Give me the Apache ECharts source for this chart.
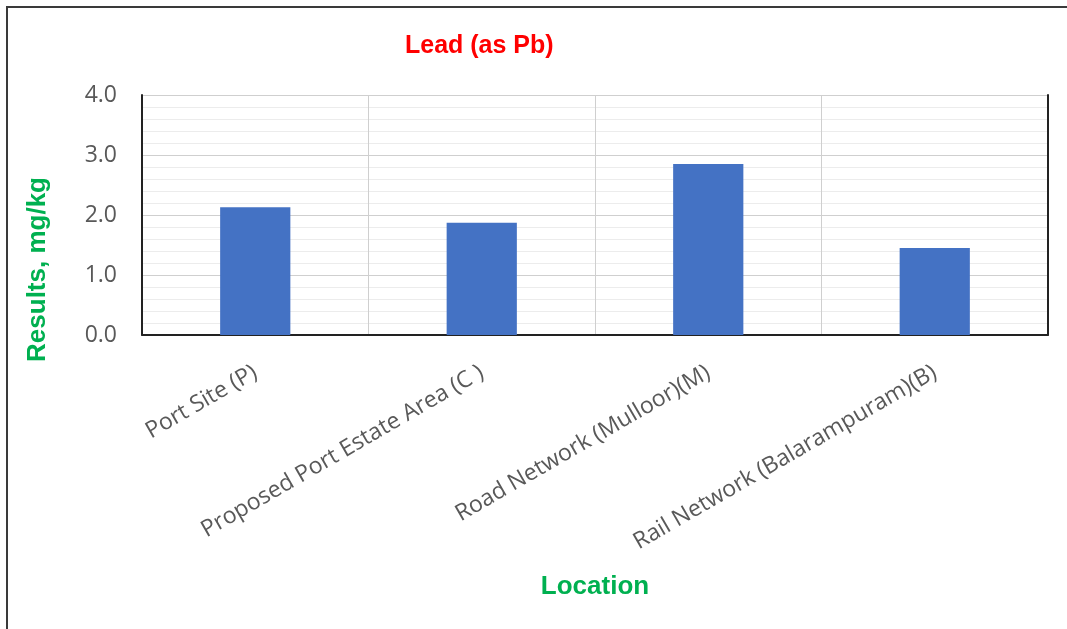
<!DOCTYPE html>
<html>
<head>
<meta charset="utf-8">
<script src="https://cdn.jsdelivr.net/npm/echarts@6/dist/echarts.min.js"></script>
<style>
html,body{margin:0;padding:0;background:#fff;}
#wrap{position:relative;width:1067px;height:629px;}
#chart{width:1067px;height:629px;}
#frame{position:absolute;left:6px;top:6px;right:0;bottom:0;border-top:2px solid #3a3a3a;border-left:2px solid #3a3a3a;pointer-events:none;}
</style>
</head>
<body>
<div id="wrap"><div id="chart"></div><div id="frame"></div></div>
<script>
const categories = ['Port Site (P)', 'Proposed Port Estate Area (C )', 'Road Network (Mulloor)(M)', 'Rail Network (Balarampuram)(B)'];
const leadValues = [2.13, 1.87, 2.85, 1.45];
const titleText = 'Lead (as Pb)';
const yName = 'Results, mg/kg';
const xName = 'Location';

const chart = echarts.init(document.getElementById('chart'));
const font = 'Liberation Sans, Arial, sans-serif';
const lblFont = 'Open Sans, Liberation Sans, sans-serif';
chart.setOption({
  animation: false,
  title: {
    text: titleText, left: 400, top: 29,
    textStyle: {color: '#ff0000', fontSize: 25, fontWeight: 'bold', fontFamily: font}
  },
  grid: {left: 142, right: 19, top: 95, bottom: 294, containLabel: false},
  xAxis: [{
    type: 'category', data: categories,
    axisLine: {show: true, lineStyle: {color: '#c8c8c8', width: 1}},
    axisTick: {show: false},
    splitLine: {show: true, interval: 0, lineStyle: {color: '#cfcfcf', width: 1}},
    axisLabel: {rotate: 30, interval: 0, fontSize: 23, color: '#595959', fontFamily: lblFont, margin: 36},
    name: xName, nameLocation: 'middle', nameGap: 239,
    nameTextStyle: {color: '#00b050', fontSize: 26, fontWeight: 'bold', fontFamily: font}
  }, {
    type: 'category', data: categories, position: 'top',
    axisLine: {show: true, lineStyle: {color: '#222', width: 2}},
    axisTick: {show: false}, axisLabel: {show: false}, splitLine: {show: false}
  }],
  yAxis: [{
    type: 'value', min: 0, max: 4, interval: 1,
    axisLine: {show: true, lineStyle: {color: '#222', width: 2}},
    axisTick: {show: false},
    axisLabel: {formatter: v => v.toFixed(1), fontSize: 23, color: '#595959', fontFamily: lblFont, margin: 25},
    splitLine: {show: true, lineStyle: {color: '#cfcfcf', width: 1}},
    minorTick: {show: false, splitNumber: 5},
    minorSplitLine: {show: true, lineStyle: {color: '#ececec', width: 1}}
  }, {
    type: 'value', min: 0, max: 4, interval: 1, position: 'right',
    axisLine: {show: true, lineStyle: {color: '#222', width: 2}},
    axisTick: {show: false}, axisLabel: {show: false}, splitLine: {show: false}
  }],
  graphic: [{
    type: 'text', left: 25, top: 177, rotation: Math.PI / 2,
    style: {text: yName, fill: '#00b050', font: 'bold 26px ' + font}
  }],
  series: [{
    type: 'bar', data: leadValues, barWidth: '31%',
    itemStyle: {color: '#4472c4'}
  }]
});
</script>
</body>
</html>
